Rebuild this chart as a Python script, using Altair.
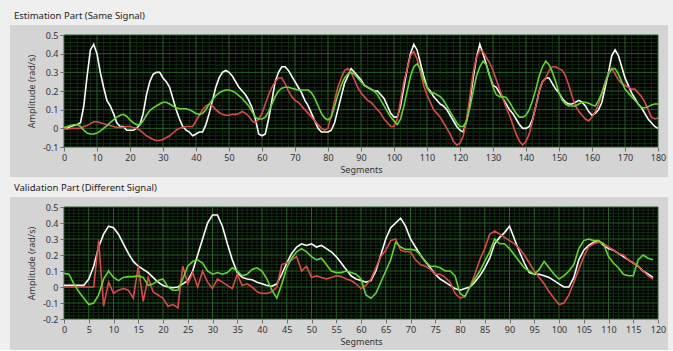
import altair as alt
import pandas as pd

# ---------------- data ----------------
TOP_WHITE = [
    0.0, 0.0, 0.01, 0.015, 0.02, 0.03, 0.12, 0.28, 0.42, 0.45,
    0.40, 0.30, 0.22, 0.15, 0.12, 0.08, 0.03, 0.01, 0.01, -0.01,
    -0.01, -0.01, 0.0, 0.02, 0.08, 0.18, 0.25, 0.29, 0.30, 0.30,
    0.27, 0.25, 0.22, 0.16, 0.10, 0.05, 0.01, -0.01, -0.02, -0.04,
    -0.03, -0.02, -0.02, 0.02, 0.08, 0.15, 0.22, 0.27, 0.30, 0.31,
    0.30, 0.28, 0.25, 0.22, 0.20, 0.18, 0.15, 0.11, 0.05, -0.03,
    -0.04, -0.03, 0.05, 0.15, 0.25, 0.30, 0.33, 0.33, 0.31, 0.28,
    0.25, 0.22, 0.19, 0.15, 0.12, 0.08, 0.04, 0.0, -0.02, -0.02,
    -0.02, -0.01, 0.03, 0.10, 0.17, 0.24, 0.28, 0.32, 0.30, 0.28,
    0.26, 0.23, 0.22, 0.21, 0.20, 0.20, 0.18, 0.16, 0.12, 0.08,
    0.06, 0.06, 0.12, 0.22, 0.32, 0.40, 0.45, 0.42, 0.35, 0.28,
    0.22, 0.20, 0.17, 0.15, 0.13, 0.12, 0.10, 0.07, 0.04, 0.01,
    -0.01, -0.02, 0.04, 0.14, 0.27, 0.38, 0.45, 0.40, 0.34, 0.28,
    0.23, 0.22, 0.19, 0.16, 0.13, 0.10, 0.08, 0.05, 0.02, 0.0,
    0.0, 0.01, 0.05, 0.12, 0.20, 0.25, 0.27, 0.27, 0.24, 0.21,
    0.19, 0.16, 0.14, 0.13, 0.13, 0.14, 0.15, 0.14, 0.12, 0.09,
    0.07, 0.08, 0.10, 0.14, 0.22, 0.30, 0.39, 0.42, 0.39, 0.33,
    0.27, 0.23, 0.19, 0.16, 0.13, 0.11, 0.08, 0.05, 0.03, 0.01,
    0.0,
]
TOP_RED = [
    0.0, -0.005, 0.0, 0.0, 0.0, 0.0, 0.01, 0.015, 0.025, 0.035,
    0.035, 0.03, 0.025, 0.02, 0.015, 0.01, 0.005, 0.005, 0.005, 0.01,
    0.01, 0.005, 0.0, -0.01, -0.025, -0.04, -0.05, -0.06, -0.065, -0.065,
    -0.06, -0.05, -0.04, -0.025, -0.01, 0.0, 0.005, 0.01, 0.01, 0.01,
    0.04, 0.07, 0.10, 0.12, 0.13, 0.12, 0.10, 0.085, 0.075, 0.07,
    0.07, 0.075, 0.075, 0.08, 0.09, 0.08, 0.065, 0.04, 0.03, 0.05,
    0.08, 0.13, 0.18, 0.22, 0.25, 0.27, 0.27, 0.24, 0.20, 0.17,
    0.15, 0.14, 0.12, 0.10, 0.08, 0.06, 0.04, 0.02, 0.0, -0.01,
    0.0, 0.07, 0.15, 0.22, 0.27, 0.31, 0.32, 0.30, 0.26, 0.22,
    0.19, 0.17, 0.15, 0.14, 0.12, 0.10, 0.08, 0.05, 0.03, 0.01,
    0.01, 0.05, 0.15, 0.25, 0.32, 0.39, 0.41, 0.37, 0.30, 0.23,
    0.18, 0.14, 0.10, 0.08, 0.06, 0.03, 0.0, -0.03, -0.07, -0.09,
    -0.08, -0.04, 0.05, 0.17, 0.30, 0.38, 0.42, 0.41, 0.38, 0.35,
    0.31, 0.26, 0.21, 0.16, 0.11, 0.07, 0.02, -0.03, -0.07, -0.09,
    -0.07, -0.03, 0.04, 0.12, 0.20, 0.25, 0.27, 0.31, 0.33, 0.33,
    0.32, 0.31, 0.28, 0.23, 0.17, 0.12, 0.09, 0.07, 0.05, 0.04,
    0.06, 0.09, 0.13, 0.19, 0.25, 0.30, 0.32, 0.29, 0.26, 0.24,
    0.23, 0.22, 0.21, 0.21, 0.19, 0.17, 0.14, 0.10, 0.06, 0.05,
    0.055,
]
TOP_GREEN = [
    0.005, 0.01, 0.015, 0.02, 0.02, 0.01, -0.01, -0.025, -0.03, -0.03,
    -0.025, -0.015, 0.0, 0.015, 0.03, 0.045, 0.06, 0.07, 0.075, 0.065,
    0.045, 0.03, 0.02, 0.02, 0.04, 0.07, 0.095, 0.11, 0.12, 0.13,
    0.14, 0.14, 0.13, 0.12, 0.11, 0.105, 0.105, 0.105, 0.10, 0.09,
    0.08, 0.075, 0.08, 0.10, 0.13, 0.155, 0.175, 0.19, 0.20, 0.205,
    0.205, 0.20, 0.19, 0.175, 0.16, 0.14, 0.12, 0.09, 0.06, 0.05,
    0.05, 0.06, 0.09, 0.13, 0.17, 0.20, 0.215, 0.22, 0.22, 0.215,
    0.21, 0.205, 0.205, 0.205, 0.205, 0.19, 0.16, 0.12, 0.08, 0.055,
    0.045, 0.06, 0.12, 0.18, 0.23, 0.27, 0.29, 0.30, 0.29, 0.27,
    0.25, 0.23, 0.22, 0.21, 0.20, 0.18, 0.15, 0.12, 0.09, 0.06,
    0.04, 0.02, 0.05, 0.12, 0.20, 0.28, 0.33, 0.345, 0.32, 0.26,
    0.22, 0.19, 0.19, 0.18, 0.17, 0.15, 0.12, 0.09, 0.06, 0.03,
    0.01, 0.01, 0.04, 0.11, 0.20, 0.28, 0.33, 0.36, 0.34, 0.28,
    0.22, 0.18, 0.17, 0.17, 0.165, 0.14, 0.11, 0.08, 0.06, 0.06,
    0.07, 0.10, 0.15, 0.21, 0.28, 0.33, 0.36, 0.34, 0.30, 0.25,
    0.19, 0.15, 0.13, 0.12, 0.12, 0.12, 0.13, 0.14, 0.14, 0.135,
    0.125, 0.12, 0.15, 0.19, 0.24, 0.29, 0.32, 0.32, 0.29, 0.25,
    0.21, 0.19, 0.17, 0.15, 0.13, 0.11, 0.11, 0.115, 0.125, 0.13,
    0.13,
]

BOT_WHITE = [
    0.01, 0.01, 0.01, 0.01, 0.01, 0.05, 0.13, 0.25, 0.33, 0.38,
    0.37, 0.33, 0.27, 0.21, 0.16, 0.13, 0.11, 0.09, 0.06, 0.03,
    0.01, 0.0, -0.005, 0.0, 0.02, 0.04, 0.10, 0.20, 0.30, 0.40,
    0.45, 0.45, 0.38, 0.27, 0.17, 0.09, 0.06, 0.05, 0.045, 0.03,
    0.02, 0.01, 0.005, 0.02, 0.08, 0.15, 0.21, 0.25, 0.27, 0.26,
    0.27, 0.25, 0.26, 0.24, 0.22, 0.19, 0.15, 0.11, 0.07, 0.05,
    0.04, 0.03, 0.04, 0.10, 0.20, 0.30, 0.37, 0.40, 0.43, 0.38,
    0.30, 0.25, 0.20, 0.16, 0.12, 0.08, 0.05, 0.03, 0.01, -0.01,
    -0.02, -0.01, 0.0, 0.03, 0.07, 0.12, 0.18, 0.27, 0.31, 0.34,
    0.38, 0.30, 0.22, 0.15, 0.09, 0.08, 0.08, 0.07, 0.06, 0.04,
    0.02, 0.0, 0.0, 0.06, 0.17, 0.23, 0.26, 0.28, 0.29, 0.26,
    0.24, 0.23, 0.21, 0.19, 0.17, 0.15, 0.13, 0.10, 0.08, 0.06,
]
BOT_RED = [
    0.0, 0.0, 0.0, 0.0, 0.0, 0.0, 0.0, 0.29, -0.12, 0.03,
    -0.04, -0.02, -0.01, -0.02, -0.07, 0.13, -0.09, 0.06, -0.03, -0.05,
    -0.07, -0.12, -0.11, -0.13, 0.13, 0.02, 0.09, 0.0, 0.10, 0.03,
    -0.01, 0.05, 0.03, 0.01, -0.01, 0.08, 0.01, 0.02, 0.0, -0.03,
    -0.04, -0.04, -0.03, 0.0, 0.14, 0.15, 0.17, 0.19, 0.10, 0.13,
    0.06, 0.07, 0.06, 0.05, 0.06, 0.07, 0.065, 0.05, 0.04, 0.02,
    -0.01, 0.01, 0.05, 0.12, 0.19, 0.23, 0.29, 0.30, 0.23, 0.22,
    0.22, 0.17, 0.14, 0.13, 0.11, 0.08, 0.08, 0.06, 0.03, -0.04,
    -0.07, -0.06, 0.0, 0.08, 0.17, 0.24, 0.33, 0.35, 0.33, 0.31,
    0.29, 0.27, 0.24, 0.20, 0.15, 0.10, 0.06, 0.02, -0.03, -0.07,
    -0.11, -0.10, -0.05, 0.03, 0.11, 0.19, 0.25, 0.27, 0.28, 0.27,
    0.25, 0.23, 0.21, 0.20, 0.17, 0.15, 0.13, 0.10, 0.07, 0.05,
]
BOT_GREEN = [
    0.085, 0.08, 0.02, -0.03, -0.07, -0.11, -0.10, -0.05, 0.05, 0.10,
    0.06, 0.04, 0.06, 0.065, 0.065, 0.07, 0.06, 0.01, 0.02, 0.04,
    0.05, 0.0, -0.02, -0.02, 0.05, 0.13, 0.16, 0.17, 0.15, 0.10,
    0.08, 0.09, 0.08, 0.09, 0.12, 0.10, 0.07, 0.08, 0.11, 0.12,
    0.10, 0.05, -0.02, -0.07, 0.02, 0.12, 0.18, 0.22, 0.24, 0.22,
    0.19, 0.17, 0.18, 0.14, 0.10, 0.09, 0.09, 0.10, 0.09, 0.08,
    0.05, -0.05, -0.07, -0.04, 0.03, 0.10, 0.17, 0.28, 0.25, 0.235,
    0.235, 0.23, 0.20, 0.16, 0.13, 0.13, 0.12, 0.10, 0.10, 0.07,
    -0.04, -0.06, 0.0, 0.05, 0.10, 0.16, 0.22, 0.30, 0.27, 0.27,
    0.24, 0.20, 0.16, 0.12, 0.10, 0.08, 0.11, 0.16, 0.12, 0.08,
    0.05, 0.07, 0.10, 0.14, 0.24, 0.29, 0.30, 0.29, 0.29, 0.27,
    0.19, 0.15, 0.12, 0.08, 0.07, 0.07, 0.17, 0.20, 0.18, 0.17,
]

TOP_TITLE = "Estimation Part (Same Signal)"
BOT_TITLE = "Validation Part (Different Signal)"
TOP_X_TICKS = list(range(0, 181, 10))
BOT_X_TICKS = list(range(0, 121, 5))
TOP_Y_TICKS = [-0.1, 0, 0.1, 0.2, 0.3, 0.4, 0.5]
BOT_Y_TICKS = [-0.2, -0.1, 0, 0.1, 0.2, 0.3, 0.4, 0.5]

# ---------------- style ----------------
FONT = "Noto Sans"
PANEL = "#d4d4d4"
STRIP = "#efefef"
MAJOR = "#276327"
MINOR = "#102e10"
WHITE = "#ffffff"
RED = "#e04848"
GREEN = "#62d62a"
W = 594
H = 112


def minor_values(lo, hi, step):
    n = int(round((hi - lo) / step))
    return [round(lo + i * step, 4) for i in range(n + 1)]


def build(title, white, red, green, x_ticks, y_ticks, x_minor_step, y_minor_step, bottom_ext):
    x_max = x_ticks[-1]
    segs = list(range(len(white)))
    xs = alt.Scale(domain=[0, x_max], nice=False, zero=False)
    ys = alt.Scale(domain=[y_ticks[0], y_ticks[-1]], nice=False, zero=False)
    common = dict(
        grid=False, domain=False, tickSize=4, tickColor="#707070",
        labelColor="#333333", titleColor="#333333", labelFont=FONT, titleFont=FONT,
        labelFontSize=9, titleFontSize=9, titleFontWeight="normal", zindex=1,
    )
    x_ax = alt.Axis(values=x_ticks, title="Segments", labelPadding=2, titlePadding=3,
                    labelFlush=False, **common)
    y_ax = alt.Axis(values=y_ticks, title="Amplitude (rad/s)", labelPadding=2, titlePadding=6,
                    labelExpr="'' + round(datum.value * 10) / 10", **common)

    one = alt.Data(values=[{"k": 1}])
    panel_rect = alt.Chart(one).mark_rect(color=PANEL).encode(
        x=alt.value(-54), x2=alt.value(W + 10), y=alt.value(-10), y2=alt.value(H + bottom_ext))
    plot_bg = alt.Chart(one).mark_rect(color="#000000").encode(
        x=alt.value(0), x2=alt.value(W), y=alt.value(0), y2=alt.value(H))

    xmin = [v for v in minor_values(0, x_max, x_minor_step) if v not in x_ticks]
    ymin = [v for v in minor_values(y_ticks[0], y_ticks[-1], y_minor_step)
            if all(abs(v - t) > 1e-6 for t in y_ticks)]

    def vrule(vals, color):
        return alt.Chart(pd.DataFrame({"g": vals})).mark_rule(color=color, strokeWidth=1).encode(
            x=alt.X("g:Q", scale=xs, axis=x_ax))

    def hrule(vals, color):
        return alt.Chart(pd.DataFrame({"g": vals})).mark_rule(color=color, strokeWidth=1).encode(
            y=alt.Y("g:Q", scale=ys, axis=y_ax))

    def line(vals, color):
        return alt.Chart(pd.DataFrame({"seg": segs, "val": vals})).mark_line(
            color=color, strokeWidth=1.6, clip=True).encode(
            x=alt.X("seg:Q", scale=xs, axis=x_ax), y=alt.Y("val:Q", scale=ys, axis=y_ax))

    return alt.layer(
        panel_rect, plot_bg,
        vrule(xmin, MINOR), hrule(ymin, MINOR),
        vrule(x_ticks, MAJOR), hrule(y_ticks, MAJOR),
        line(white, WHITE), line(red, RED), line(green, GREEN),
    ).properties(
        width=W, height=H,
        title=alt.TitleParams(text=title, anchor="start", frame="group", dx=-50, offset=5,
                              font=FONT, fontSize=9.5, fontWeight="normal", color="#222222"),
    )


top = build(TOP_TITLE, TOP_WHITE, TOP_RED, TOP_GREEN, TOP_X_TICKS, TOP_Y_TICKS, 2, 0.02, 30)
bot = build(BOT_TITLE, BOT_WHITE, BOT_RED, BOT_GREEN, BOT_X_TICKS, BOT_Y_TICKS, 1, 0.02, 31)

chart = alt.vconcat(top, bot, spacing=5).configure(
    background=STRIP,
    padding={"left": 10, "top": 10, "right": 5, "bottom": 0},
).configure_view(strokeWidth=0)

chart.save("out.html", embed_options={"renderer": "svg", "actions": False})
